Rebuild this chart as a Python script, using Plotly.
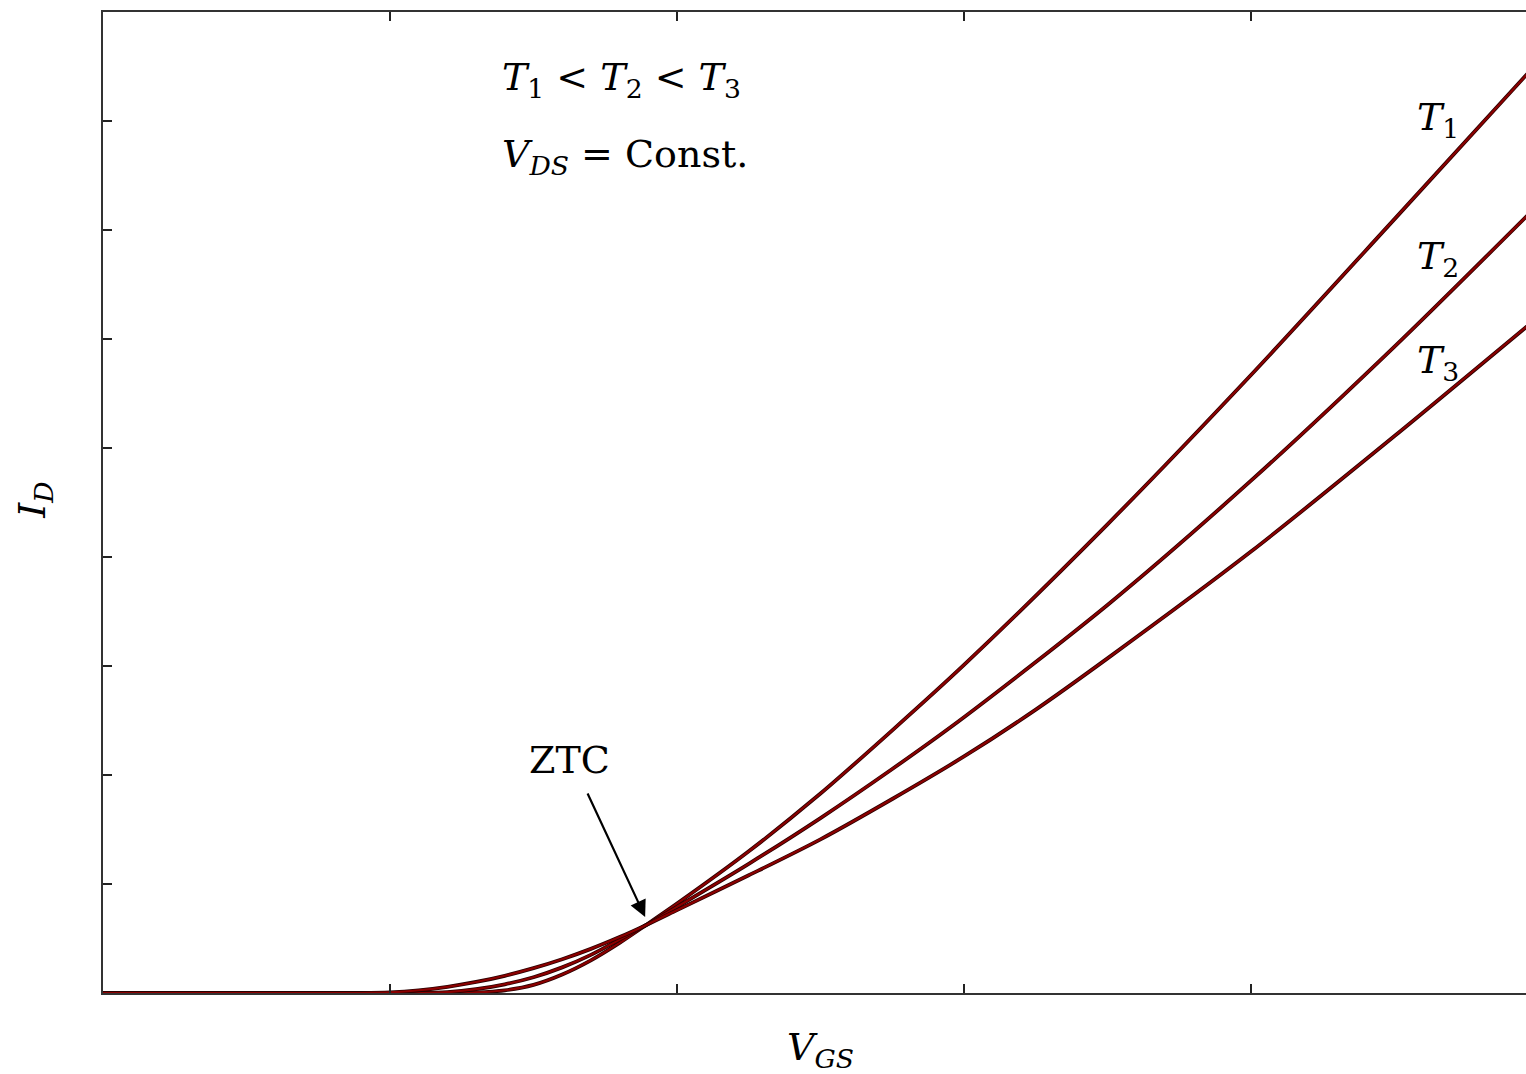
import plotly.graph_objects as go

# V_GS sample points (arbitrary units) and I_D values
vgs_t1 = [0.0, 0.6, 1.2, 1.3, 1.4, 1.5, 1.6, 1.7, 1.8, 1.89, 2.0, 2.25, 2.5, 2.75, 3.0, 3.5, 4.0, 4.5, 5.0]
id_t1 = [0.0, 0.0, 0.0, 0.005, 0.025, 0.075, 0.17, 0.30, 0.46, 0.62, 0.82, 1.30, 1.83, 2.41, 3.01, 4.30, 5.67, 7.10, 8.54]

vgs_t2 = [0.0, 0.6, 1.1, 1.2, 1.3, 1.4, 1.5, 1.6, 1.7, 1.8, 1.89, 2.0, 2.25, 2.5, 2.75, 3.0, 3.5, 4.0, 4.5, 5.0]
id_t2 = [0.0, 0.0, 0.0, 0.008, 0.035, 0.08, 0.145, 0.235, 0.35, 0.49, 0.62, 0.79, 1.185, 1.605, 2.055, 2.53, 3.56, 4.70, 5.93, 7.23]

vgs_t3 = [0.0, 0.5, 0.9, 1.0, 1.1, 1.2, 1.3, 1.4, 1.5, 1.6, 1.7, 1.8, 1.89, 2.0, 2.25, 2.5, 2.75, 3.0, 3.25, 3.5, 4.0, 4.5, 5.0]
id_t3 = [0.0, 0.0, 0.0, 0.006, 0.025, 0.057, 0.101, 0.158, 0.228, 0.31, 0.405, 0.513, 0.62, 0.76, 1.08, 1.41, 1.78, 2.17, 2.60, 3.07, 4.05, 5.11, 6.20]

x_ticks = [1, 2, 3, 4]
y_ticks = [1, 2, 3, 4, 5, 6, 7, 8]

FONT = "DejaVu Serif"
RED = "#8b0000"

fig = go.Figure()
for xs, ys in [(vgs_t1, id_t1), (vgs_t2, id_t2), (vgs_t3, id_t3)]:
    fig.add_trace(go.Scatter(x=xs, y=ys, mode="lines",
                             line=dict(color="#2a0000", width=3.8, shape="spline", smoothing=0.8),
                             hoverinfo="skip", showlegend=False))
    fig.add_trace(go.Scatter(x=xs, y=ys, mode="lines",
                             line=dict(color=RED, width=2.2, shape="spline", smoothing=0.8),
                             showlegend=False))

ann_font = dict(family=FONT, size=38, color="black")
annotations = [
    dict(x=1.383, y=8.38, xref="x", yref="y", xanchor="left", yanchor="middle",
         text="<i>T</i><sub>1</sub> &lt; <i>T</i><sub>2</sub> &lt; <i>T</i><sub>3</sub>",
         showarrow=False, font=ann_font),
    dict(x=1.383, y=7.67, xref="x", yref="y", xanchor="left", yanchor="middle",
         text="<i>V</i><sub><i>DS</i></sub> = Const.",
         showarrow=False, font=ann_font),
    dict(x=4.57, y=8.01, xref="x", yref="y", xanchor="left", yanchor="middle",
         text="<i>T</i><sub>1</sub>", showarrow=False, font=ann_font),
    dict(x=4.57, y=6.74, xref="x", yref="y", xanchor="left", yanchor="middle",
         text="<i>T</i><sub>2</sub>", showarrow=False, font=ann_font),
    dict(x=4.57, y=5.78, xref="x", yref="y", xanchor="left", yanchor="middle",
         text="<i>T</i><sub>3</sub>", showarrow=False, font=ann_font),
    dict(x=1.627, y=2.14, xref="x", yref="y", xanchor="center", yanchor="middle",
         text="ZTC", showarrow=False, font=ann_font),
    dict(x=1.889, y=0.697, xref="x", yref="y", ax=1.686, ay=1.844, axref="x", ayref="y",
         text="", showarrow=True, arrowhead=2, arrowsize=1.5, arrowwidth=2.2, arrowcolor="black"),
    dict(x=0.504, y=-0.058, xref="paper", yref="paper", xanchor="center", yanchor="middle",
         text="<i>V</i><sub><i>GS</i></sub>", showarrow=False, font=ann_font),
    dict(x=-0.048, y=0.5026, xref="paper", yref="paper", xanchor="center", yanchor="middle",
         text="<i>I</i><sub><i>D</i></sub>", textangle=-90, showarrow=False, font=ann_font),
]

fig.update_layout(
    width=1526, height=1074,
    margin=dict(l=103, r=0, t=12, b=81),
    paper_bgcolor="white", plot_bgcolor="white",
    annotations=annotations,
    showlegend=False,
)
fig.update_xaxes(range=[0, 1423 / 287], tickvals=x_ticks, showticklabels=False,
                 ticks="inside", ticklen=9, tickwidth=2, tickcolor="#222",
                 showline=True, linewidth=2, linecolor="#333", mirror="ticks",
                 showgrid=False, zeroline=False)
fig.update_yaxes(range=[0, 9], tickvals=y_ticks, showticklabels=False,
                 ticks="inside", ticklen=9, tickwidth=2, tickcolor="#222",
                 showline=True, linewidth=2, linecolor="#333", mirror=False,
                 showgrid=False, zeroline=False)

fig.write_html("out.html")
